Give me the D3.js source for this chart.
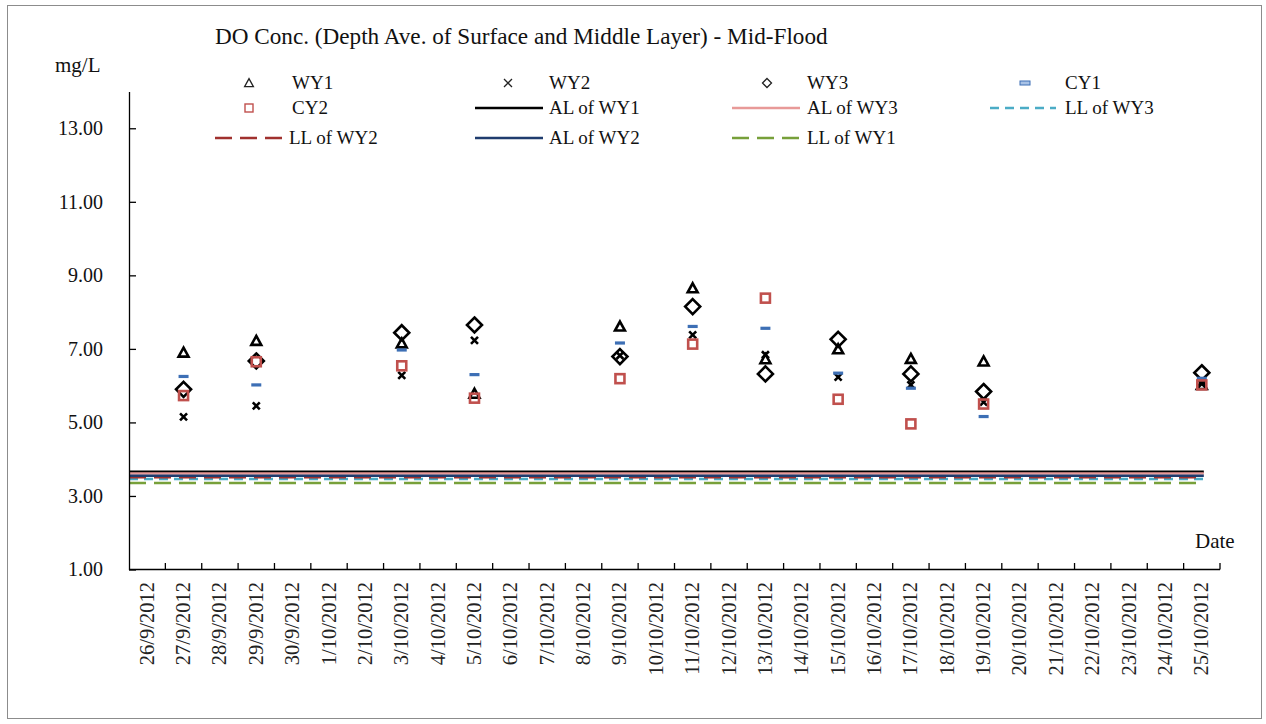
<!DOCTYPE html>
<html><head><meta charset="utf-8">
<script src="https://cdn.jsdelivr.net/npm/d3@7"></script>
<style>
body{margin:0;background:#fff;}
svg{display:block;font-family:"Liberation Serif","Times New Roman",serif;}
</style></head>
<body><svg id="c" width="1266" height="724"></svg>
<script>
const dates = ["26/9/2012","27/9/2012","28/9/2012","29/9/2012","30/9/2012","1/10/2012","2/10/2012","3/10/2012","4/10/2012","5/10/2012","6/10/2012","7/10/2012","8/10/2012","9/10/2012","10/10/2012","11/10/2012","12/10/2012","13/10/2012","14/10/2012","15/10/2012","16/10/2012","17/10/2012","18/10/2012","19/10/2012","20/10/2012","21/10/2012","22/10/2012","23/10/2012","24/10/2012","25/10/2012"];
const sampleDates = ["27/9/2012","29/9/2012","3/10/2012","5/10/2012","9/10/2012","11/10/2012","13/10/2012","15/10/2012","17/10/2012","19/10/2012","25/10/2012"];
const wy1 = [6.90, 7.22, 7.15, 5.78, 7.61, 8.65, 6.72, 6.99, 6.73, 6.66, 6.02];
const wy2 = [5.15, 5.45, 6.28, 7.23, 6.82, 7.38, 6.84, 6.23, 6.02, 5.55, 6.05];
const wy3 = [5.90, 6.67, 7.44, 7.65, 6.79, 8.15, 6.32, 7.26, 6.32, 5.84, 6.35];
const cy1 = [6.25, 6.02, 6.97, 6.30, 7.16, 7.61, 7.56, 6.34, 5.93, 5.16, 6.20];
const cy2 = [5.73, 6.65, 6.54, 5.66, 6.19, 7.13, 8.38, 5.63, 4.96, 5.50, 6.02];
const limitNames = ["AL of WY1","AL of WY3","LL of WY3","LL of WY2","AL of WY2","LL of WY1"];
const limitValues = [3.66, 3.61, 3.46, 3.51, 3.55, 3.35];
const yTicks = [1, 3, 5, 7, 9, 11, 13];
const titleText = "DO Conc. (Depth Ave. of Surface and Middle Layer) - Mid-Flood";

const svg = d3.select("#c");
const F = '"Liberation Serif","Times New Roman",serif';

// border
svg.append("rect").attr("x",7.5).attr("y",5.5).attr("width",1254).attr("height",713)
  .attr("fill","none").attr("stroke","#8c8c8c").attr("stroke-width",1);

const x = d3.scaleBand().domain(dates).range([129, 1220]).paddingInner(0).paddingOuter(0);
const y = d3.scaleLinear().domain([1, 14]).range([569.5, 91.5]);
const cx = d => x(d) + x.bandwidth()/2;

// limit lines
const limitStyles = {
  "AL of WY1": {c:"#000000", dash:null},
  "AL of WY3": {c:"#e89a98", dash:null},
  "LL of WY3": {c:"#4bacc6", dash:"9,6"},
  "LL of WY2": {c:"#a0312e", dash:"17,8"},
  "AL of WY2": {c:"#1f3c6e", dash:null},
  "LL of WY1": {c:"#77a03a", dash:"17,8"}
};
const gl = svg.append("g");
limitNames.forEach((n,i) => {
  gl.append("line").attr("x1", x.range()[0]).attr("x2", cx(dates[dates.length-1]) + 2)
    .attr("y1", y(limitValues[i])).attr("y2", y(limitValues[i]))
    .attr("stroke", limitStyles[n].c).attr("stroke-width", 2.5)
    .attr("stroke-dasharray", limitStyles[n].dash);
});

// axes
const yAxis = d3.axisLeft(y).tickValues(yTicks).tickSizeInner(-7).tickSizeOuter(0).tickPadding(26)
  .tickFormat(d3.format(".2f"));
const gy = svg.append("g").attr("transform","translate(129,0)").call(yAxis);
gy.select(".domain").attr("stroke","#000").attr("stroke-width",1.3);
gy.selectAll(".tick line").attr("stroke","#000").attr("stroke-width",1.3);
gy.selectAll(".tick text").attr("font-family",F).attr("font-size",20).attr("fill","#111");

const gx = svg.append("g");
gx.append("line").attr("x1",129).attr("x2",1220).attr("y1",569.5).attr("y2",569.5)
  .attr("stroke","#000").attr("stroke-width",1.3);
dates.forEach(d => {
  const bx = x(d) + x.bandwidth();
  gx.append("line").attr("x1",bx).attr("x2",bx).attr("y1",569.5).attr("y2",563)
    .attr("stroke","#000").attr("stroke-width",1.3);
  gx.append("text").attr("transform",`translate(${cx(d)+6.5},582) rotate(-90)`)
    .attr("text-anchor","end").attr("font-family",F).attr("font-size",20.5).attr("fill","#222")
    .text(d);
});

// texts
svg.append("text").attr("x",215).attr("y",44).attr("font-family",F).attr("font-size",23.2).attr("fill","#111").text(titleText);
svg.append("text").attr("x",55).attr("y",72).attr("font-family",F).attr("font-size",21).attr("fill","#111").text("mg/L");
svg.append("text").attr("x",1195).attr("y",548).attr("font-family",F).attr("font-size",21).attr("fill","#111").text("Date");

// marker drawers
function tri(g, px, py, s, sw, col){ g.append("path").attr("d",`M${px},${py-s*0.55}L${px+s*0.55},${py+s*0.45}L${px-s*0.55},${py+s*0.45}Z`).attr("fill","none").attr("stroke",col).attr("stroke-width",sw); }
function cross(g, px, py, s, sw, col){ g.append("path").attr("d",`M${px-s/2},${py-s/2}L${px+s/2},${py+s/2}M${px-s/2},${py+s/2}L${px+s/2},${py-s/2}`).attr("stroke",col).attr("stroke-width",sw).attr("fill","none"); }
function dia(g, px, py, s, sw, col){ g.append("path").attr("d",`M${px},${py-s/2}L${px+s/2},${py}L${px},${py+s/2}L${px-s/2},${py}Z`).attr("fill","none").attr("stroke",col).attr("stroke-width",sw); }
function dash(g, px, py, w, h, col, fill){ g.append("rect").attr("x",px-w/2).attr("y",py-h/2).attr("width",w).attr("height",h).attr("fill",fill||col).attr("stroke",fill?col:"none").attr("stroke-width",1); }
function sq(g, px, py, s, sw, col){ g.append("rect").attr("x",px-s/2).attr("y",py-s/2).attr("width",s).attr("height",s).attr("fill","none").attr("stroke",col).attr("stroke-width",sw); }

const gp = svg.append("g");
sampleDates.forEach((d,i) => tri(gp, cx(d), y(wy1[i]), 9, 2.6, "#000"));
sampleDates.forEach((d,i) => cross(gp, cx(d), y(wy2[i]), 7, 2.6, "#000"));
sampleDates.forEach((d,i) => dia(gp, cx(d), y(wy3[i]), 15, 2.6, "#000"));
sampleDates.forEach((d,i) => dash(gp, cx(d), y(cy1[i]), 10, 3.2, "#3d6fb5"));
sampleDates.forEach((d,i) => sq(gp, cx(d), y(cy2[i]), 9, 2.6, "#c0504d"));

// legend
const lg = svg.append("g").attr("font-family",F).attr("font-size",19).attr("fill","#111");
const rows = [83, 108, 138];
const lt = (tx, ty, t) => lg.append("text").attr("x",tx).attr("y",ty+5.5).text(t);
tri(lg, 249, rows[0], 8, 1.3, "#222"); lt(292, rows[0], "WY1");
cross(lg, 508, rows[0], 8, 1.3, "#222"); lt(549, rows[0], "WY2");
dia(lg, 767, rows[0], 9, 1.3, "#222"); lt(807, rows[0], "WY3");
dash(lg, 1025, rows[0], 10, 4, "#3d6fb5", "#a8c2e6"); lt(1065, rows[0], "CY1");
sq(lg, 249, rows[1], 8, 1.4, "#c0504d"); lt(292, rows[1], "CY2");
const legLine = (x1, x2, yy, n) => lg.append("line").attr("x1",x1).attr("x2",x2).attr("y1",yy).attr("y2",yy)
  .attr("stroke",limitStyles[n].c).attr("stroke-width",2.5).attr("stroke-dasharray",limitStyles[n].dash);
legLine(475, 543, rows[1], "AL of WY1"); lt(549, rows[1], "AL of WY1");
legLine(732, 800, rows[1], "AL of WY3"); lt(807, rows[1], "AL of WY3");
legLine(990, 1056, rows[1], "LL of WY3"); lt(1065, rows[1], "LL of WY3");
legLine(215, 283, rows[2], "LL of WY2"); lt(289, rows[2], "LL of WY2");
legLine(475, 543, rows[2], "AL of WY2"); lt(549, rows[2], "AL of WY2");
legLine(732, 800, rows[2], "LL of WY1"); lt(807, rows[2], "LL of WY1");
</script></body></html>
